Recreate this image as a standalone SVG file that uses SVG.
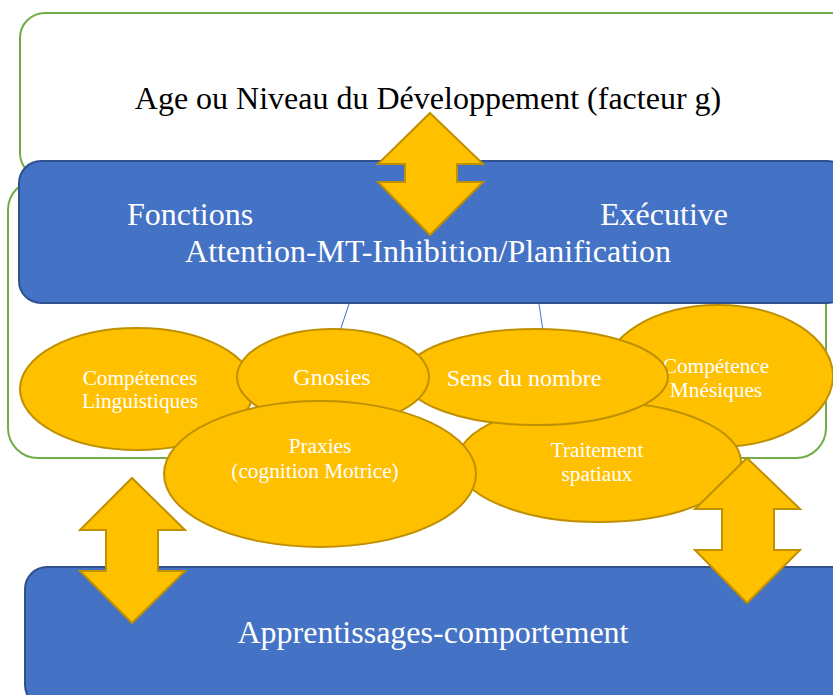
<svg xmlns="http://www.w3.org/2000/svg" width="833" height="695" viewBox="0 0 833 695">
<style>
.box{fill:#fff;stroke:#70AD47;stroke-width:2}
.blue{fill:#4472C4;stroke:#2F528F;stroke-width:2}
.ell{fill:#FFC000;stroke:#BF9000;stroke-width:2}
.arr{fill:#FFC000;stroke:#BF9000;stroke-width:2;stroke-linejoin:miter}
.t{font-family:"Liberation Serif","Times New Roman",serif;text-anchor:middle}
.big{font-size:32px}
.sm{font-size:21.3px;fill:#fff}
.md{font-size:24px;fill:#fff}
.w{fill:#fff}
.k{fill:#000}
.ln{stroke:#4472C4;stroke-width:1;fill:none}
</style>
<g id="age">
<rect class="box" x="20" y="13" width="835" height="165" rx="25"/>
<text class="t big k" x="428" y="109">Age ou Niveau du Développement (facteur g)</text>
</g>
<g id="container">
<rect class="box" x="8" y="180" width="818" height="278" rx="30"/>
</g>
<g id="fonctions">
<rect class="blue" x="19" y="161" width="830" height="142" rx="22"/>
<text class="t big w" x="190" y="225">Fonctions</text>
<text class="t big w" x="664" y="225">Exécutive</text>
<text class="t big w" x="428" y="262">Attention-MT-Inhibition/Planification</text>
</g>
<g id="connectors">
<line class="ln" x1="349" y1="304" x2="340" y2="331"/>
<line class="ln" x1="539" y1="304" x2="543" y2="331"/>
</g>
<g id="mnesiques">
<ellipse class="ell" cx="718" cy="376" rx="115" ry="71"/>
<text class="t sm" x="716" y="373">Compétence</text>
<text class="t sm" x="716" y="397">Mnésiques</text>
</g>
<g id="traitement">
<ellipse class="ell" cx="599" cy="462" rx="142" ry="60"/>
<text class="t sm" x="597" y="457">Traitement</text>
<text class="t sm" x="597" y="481">spatiaux</text>
</g>
<g id="sens">
<ellipse class="ell" cx="536" cy="377" rx="132" ry="48"/>
<text class="t md" x="524" y="386">Sens du nombre</text>
</g>
<g id="linguistiques">
<ellipse class="ell" cx="137" cy="389" rx="117" ry="61"/>
<text class="t sm" x="140" y="385">Compétences</text>
<text class="t sm" x="140" y="408">Linguistiques</text>
</g>
<g id="gnosies">
<ellipse class="ell" cx="333" cy="377" rx="96" ry="48"/>
<text class="t md" x="332" y="385">Gnosies</text>
</g>
<g id="praxies">
<ellipse class="ell" cx="320" cy="474" rx="156" ry="73"/>
<text class="t sm" x="320" y="453">Praxies</text>
<text class="t sm" x="315" y="478">(cognition Motrice)</text>
</g>
<g id="apprentissages">
<rect class="blue" x="25" y="567" width="830" height="140" rx="22"/>
<text class="t big w" x="433" y="643">Apprentissages-comportement</text>
</g>
<g id="arrows">
<polygon class="arr" points="430,113 483,164 457,164 457,182 483,182 430,235 378,182 405,182 405,164 378,164"/>
<polygon class="arr" points="132,478 185,530 158,530 158,571 185,571 132,623 80,571 106,571 106,530 80,530"/>
<polygon class="arr" points="747,458 800,509 774,509 774,550 800,550 747,603 695,550 722,550 722,509 695,509"/>
</g>
</svg>
